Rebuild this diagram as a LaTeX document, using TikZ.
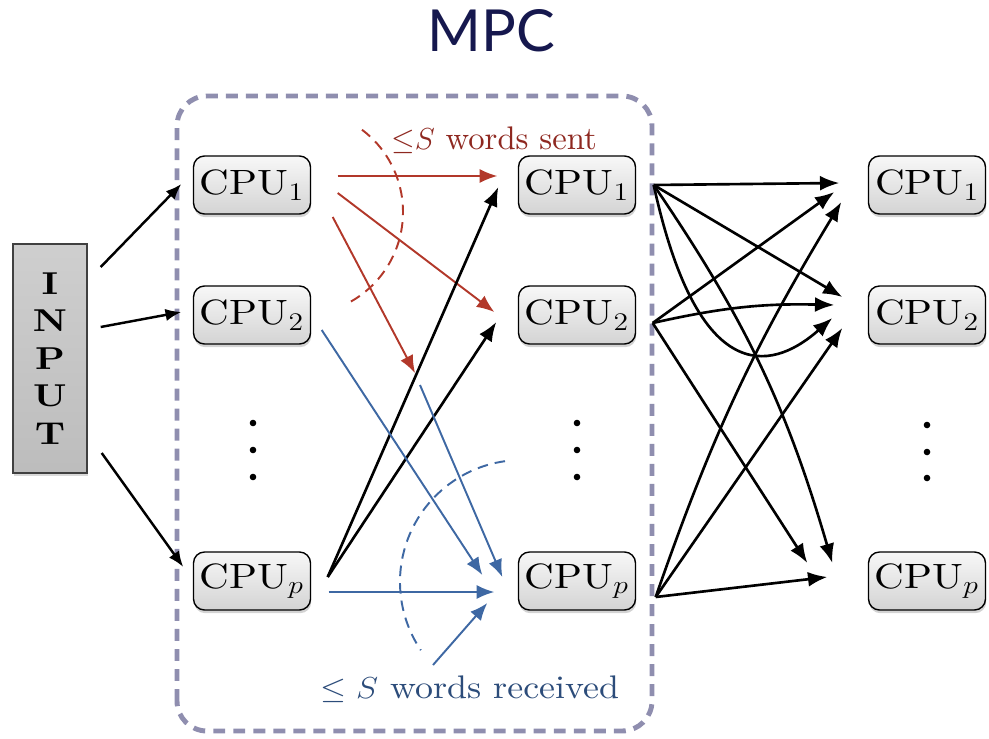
\documentclass[tikz,border=0pt]{standalone}
\usepackage{graphicx}
\usepackage{fontspec}
\setmainfont{lmroman10-regular}[Extension=.otf, BoldFont=lmroman10-bold,
  ItalicFont=lmroman10-italic, BoldItalicFont=lmroman10-bolditalic]
\newfontfamily\titlefont{Lato}
\usetikzlibrary{arrows.meta,shadows}

\definecolor{titlenavy}{RGB}{22,24,78}
\definecolor{framegray}{RGB}{143,142,175}
\definecolor{sendred}{RGB}{178,56,42}
\definecolor{sendtext}{RGB}{142,40,32}
\definecolor{recvblue}{RGB}{62,104,163}
\definecolor{recvtext}{RGB}{44,76,122}

% wide-set text used in the boxes and labels
\newcommand{\wide}[2][1.17]{\scalebox{#1}[1]{#2}}

\tikzset{
  cpu/.style={draw=black, line width=0.8pt, rounded corners=0.22cm,
    top color=black!3, bottom color=black!17,
    minimum width=2.34cm, minimum height=1.16cm, inner sep=0pt,
    font=\fontsize{20}{24}\selectfont,
    drop shadow={shadow xshift=0.4pt, shadow yshift=-1.8pt, opacity=0.35}},
  inputbox/.style={draw=black!75, line width=0.8pt,
    top color=black!19, bottom color=black!26,
    minimum width=1.48cm, minimum height=4.58cm, inner sep=0pt, align=center,
    font=\fontsize{18}{21.3}\selectfont\bfseries,
    drop shadow={shadow xshift=0.6pt, shadow yshift=-1.8pt, opacity=0.3}},
  mpcframe/.style={draw=framegray, line width=2.8pt,
    dash pattern=on 6.8pt off 4.6pt, rounded corners=0.6cm},
  feed/.style={-{Latex[length=9pt,width=7pt]}, line width=1.4pt},
  link/.style={-{Latex[length=11pt,width=8.5pt]}, line width=1.5pt},
  sendarr/.style={-{Latex[length=10pt,width=8pt]}, line width=1.1pt, draw=sendred},
  recvarr/.style={-{Latex[length=10pt,width=8pt]}, line width=1.1pt, draw=recvblue},
  sendcut/.style={draw=sendred, line width=1.1pt, dash pattern=on 6pt off 4pt},
  recvcut/.style={draw=recvblue, line width=1.1pt, dash pattern=on 6pt off 4pt},
  cutlabel/.style={anchor=base, inner sep=0pt, font=\fontsize{18.6}{22}\selectfont}
}

\begin{document}
\begin{tikzpicture}[x=0.02cm, y=0.02cm]
\useasboundingbox (0,0) rectangle (989,738);

% title
\node[anchor=base, inner sep=0pt, text=titlenavy,
      font=\titlefont\fontsize{33}{36}\selectfont] (title) at (491,686) {MPC};

% dashed frame around the communication round
\draw[mpcframe] (177,7) rectangle (652,642);

% input block
\node[inputbox] (inp) at (50,379.5)
  {\wide[1.2]{I}\\\wide[1.2]{N}\\\wide[1.2]{P}\\\wide[1.2]{U}\\\wide[1.2]{T}};

% three columns of machines
\node[cpu] (c11) at (252,553) {\wide{CPU$_1$}};
\node[cpu] (c12) at (252,423) {\wide{CPU$_2$}};
\node[cpu] (c1p) at (252,157) {\wide{CPU$_p$}};
\node[cpu] (c21) at (577,553) {\wide{CPU$_1$}};
\node[cpu] (c22) at (577,423) {\wide{CPU$_2$}};
\node[cpu] (c2p) at (577,157) {\wide{CPU$_p$}};
\node[cpu] (c31) at (927,553) {\wide{CPU$_1$}};
\node[cpu] (c32) at (927,423) {\wide{CPU$_2$}};
\node[cpu] (c3p) at (927,157) {\wide{CPU$_p$}};

% vertical ellipses
\foreach \y in {315,288,261} \fill (253,\y) circle[radius=3.3];
\foreach \y in {315,288,261} \fill (577,\y) circle[radius=3.3];
\foreach \y in {313,286,260} \fill (927,\y) circle[radius=3.3];

% input distribution
\draw[feed] ([shift={(13,91.5)}]inp.east) -- ([shift={(-11.5,1)}]c11.west);
\draw[feed] ([shift={(13,31.5)}]inp.east) -- ([shift={(-11.5,3)}]c12.west);
\draw[feed] ([shift={(14,-94.5)}]inp.east) -- ([shift={(-9.5,14)}]c1p.west);

% words sent by machine 1
\coordinate (redtail) at (415,365);
\draw[sendarr] ([shift={(26.5,9)}]c11.east) -- ([shift={(-20.5,9)}]c21.west);
\draw[sendarr] ([shift={(26.5,-8)}]c11.east) -- ([shift={(-23.5,3)}]c22.west);
\draw[sendarr] ([shift={(21.5,-32)}]c11.east) -- (redtail);
\draw[sendcut] (300,526) ++(53:103) arc[start angle=53, end angle=-64, radius=103];
\node[cutlabel, text=sendtext] (sentlbl) at (494,588) {${\leq}S$ words sent};

% machine p sending upward
\coordinate (pfan) at ([shift={(16.5,4)}]c1p.east);
\draw[link] (pfan) -- ([shift={(-19.5,-2)}]c21.west);
\draw[link] (pfan) -- ([shift={(-21.5,-7)}]c22.west);

% words received by machine p
\coordinate (bluehead) at (420,353);
\coordinate (bluelow) at (433,73);
\draw[recvarr] ([shift={(10.5,-15)}]c12.east) -- ([shift={(-35.5,6)}]c2p.west);
\draw[recvarr] (bluehead) -- ([shift={(-15.5,4)}]c2p.west);
\draw[recvarr] ([shift={(17.5,-11)}]c1p.east) -- ([shift={(-23.5,-11)}]c2p.west);
\draw[recvarr] (bluelow) -- ([shift={(-30.5,-22)}]c2p.west);
\draw[recvcut] (522,156) ++(98:122) arc[start angle=98, end angle=214, radius=122];
\node[cutlabel, text=recvtext] (recvlbl) at (470,40)
  {\wide[1.1]{$\leq S$ words received}};

% next round: all-to-all exchange
\coordinate (s1) at ([shift={(17.5,0)}]c21.east);
\coordinate (s2) at ([shift={(16.5,-8)}]c22.east);
\coordinate (sp) at ([shift={(19.5,-16)}]c2p.east);

\draw[link] (s1) -- ([shift={(-28.5,2)}]c31.west);
\draw[link] (s2) -- ([shift={(-33.5,-7)}]c31.west);
\draw[link] (sp) to[bend left=6] ([shift={(-26.5,-17)}]c31.west);

\draw[link] (s1) -- ([shift={(-25.5,18)}]c32.west);
\draw[link] (s2) to[bend left=7] ([shift={(-33.5,10)}]c32.west);
\draw[link] (s1) .. controls +(47,-215) and +(-53,-47) .. ([shift={(-35.5,-3)}]c32.west);
\draw[link] (sp) -- ([shift={(-25.5,-13)}]c32.west);

\draw[link] (s2) -- ([shift={(-60.5,18)}]c3p.west);
\draw[link] (s1) to[bend left=9] ([shift={(-35.5,18)}]c3p.west);
\draw[link] (sp) -- ([shift={(-40.5,4)}]c3p.west);
\end{tikzpicture}
\end{document}
